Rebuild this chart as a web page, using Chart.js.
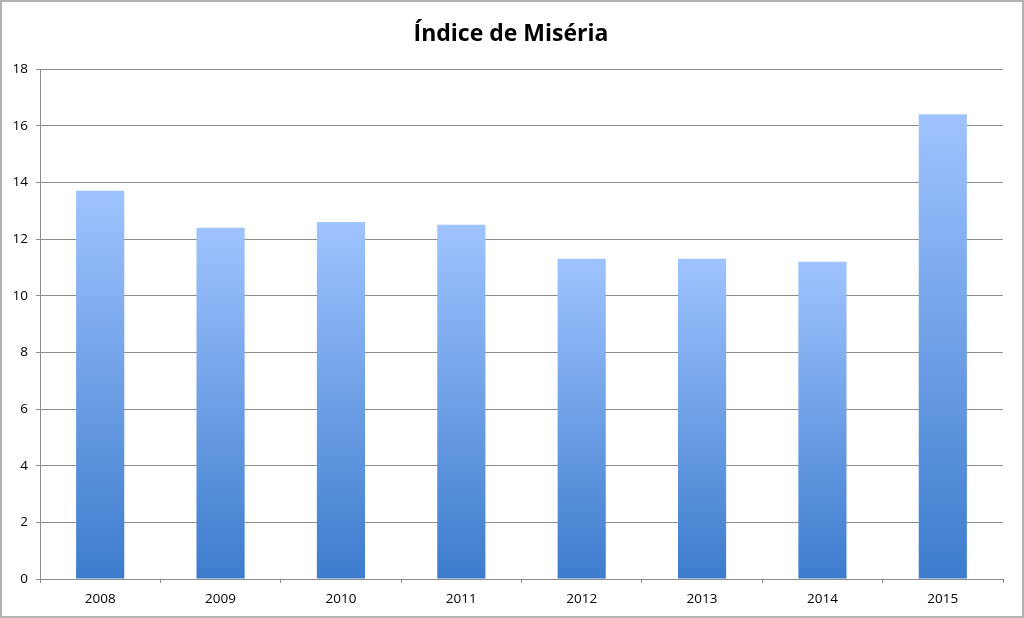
<!DOCTYPE html>
<html lang="pt">
<head>
  <meta charset="UTF-8">
  <title>Índice de Miséria</title>
  <script src="https://cdn.jsdelivr.net/npm/chart.js"></script>
  <style>
    body { margin: 0; background: #fff; }
    #wrap { width: 1024px; height: 618px; }
  </style>
</head>
<body>
  <div id="wrap"><canvas id="miseria" width="1024" height="618"></canvas></div>

  <script>
    const anos = ["2008", "2009", "2010", "2011", "2012", "2013", "2014", "2015"];
    const indice = [13.7, 12.4, 12.6, 12.5, 11.3, 11.3, 11.2, 16.4];
    const yTicks = [0, 2, 4, 6, 8, 10, 12, 14, 16, 18];

    const FONT = "'Open Sans', 'Liberation Sans', sans-serif";

    // moldura cinza + titulo
    const moldura = {
      id: "moldura",
      beforeDraw(chart) {
        const c = chart.ctx;
        c.save();
        c.fillStyle = "#fff";
        c.fillRect(0, 0, chart.width, chart.height);
        c.restore();
      },
      afterDraw(chart) {
        const c = chart.ctx;
        c.save();
        c.strokeStyle = "#b3b3b3";
        c.lineWidth = 2;
        c.strokeRect(1, 1, chart.width - 2, chart.height - 2);
        c.fillStyle = "#000";
        c.font = "bold 23px " + FONT;
        c.textAlign = "center";
        c.textBaseline = "middle";
        c.fillText("Índice de Miséria", 511, 34);
        c.restore();
      }
    };

    // gradiente de cada barra, do topo da barra ate a base
    function gradiente(ctx) {
      const area = ctx.chart.chartArea;
      if (!area || ctx.type !== "data") return "#6a9de6";
      const topo = ctx.chart.scales.y.getPixelForValue(ctx.raw);
      const g = ctx.chart.ctx.createLinearGradient(0, topo, 0, area.bottom);
      g.addColorStop(0, "#9fc3ff");
      g.addColorStop(1, "#3d7ccd");
      return g;
    }

    new Chart(document.getElementById("miseria").getContext("2d"), {
      type: "bar",
      data: {
        labels: anos,
        datasets: [{
          label: "Índice de Miséria",
          data: indice,
          backgroundColor: gradiente,
          borderWidth: 0,
          barPercentage: 0.4,
          categoryPercentage: 1
        }]
      },
      options: {
        responsive: false,
        animation: false,
        layout: { padding: { top: 69, right: 21, left: 0, bottom: 0 } },
        plugins: {
          legend: { display: false },
          title: { display: false },
          tooltip: { enabled: false }
        },
        scales: {
          x: {
            offset: true,
            afterFit: s => { s.height = 39; },
            grid: {
              offset: true,
              drawOnChartArea: false,
              tickLength: 4,
              color: "#8c8c8c"
            },
            border: { color: "#8c8c8c" },
            ticks: { color: "#000", padding: 8, font: { family: FONT, size: 13.5 } }
          },
          y: {
            min: 0,
            max: 18,
            afterFit: s => { s.width = 40; },
            afterBuildTicks: s => { s.ticks = yTicks.map(v => ({ value: v })); },
            grid: { color: "#8c8c8c", tickLength: 4 },
            border: { color: "#8c8c8c" },
            ticks: { color: "#000", padding: 8, font: { family: FONT, size: 13.5 } }
          }
        }
      },
      plugins: [moldura]
    });
  </script>
</body>
</html>
